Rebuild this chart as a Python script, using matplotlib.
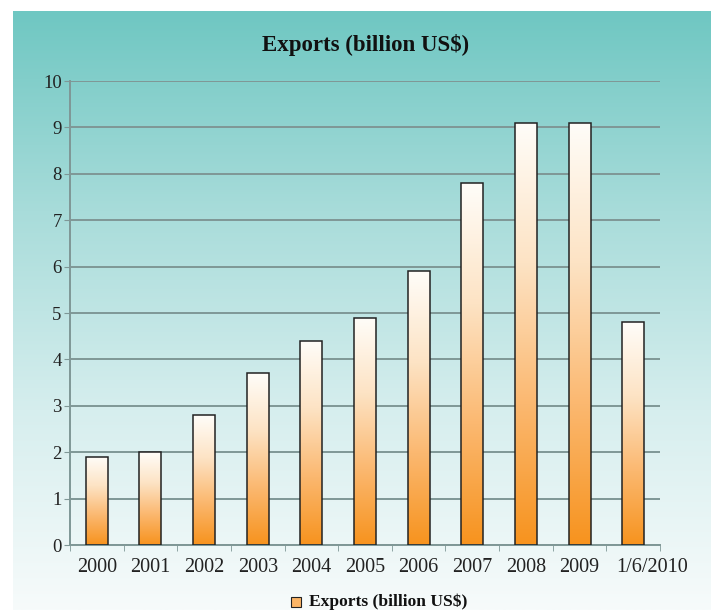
import numpy as np
import matplotlib.pyplot as plt
import matplotlib.transforms as mtransforms
from matplotlib.colors import LinearSegmentedColormap
from matplotlib.patches import Rectangle

plt.rcParams["font.family"] = ["Liberation Serif", "DejaVu Serif"]

years = ["2000", "2001", "2002", "2003", "2004", "2005", "2006", "2007",
         "2008", "2009", "1/6/2010"]
exports = [1.9, 2.0, 2.8, 3.7, 4.4, 4.9, 5.9, 7.8, 9.1, 9.1, 4.8]
series_name = "Exports (billion US$)"

W, H = 711, 610
fig = plt.figure(figsize=(W / 100, H / 100), dpi=100)
fig.patch.set_facecolor("white")

# background panel with teal -> white gradient
bg = fig.add_axes([13 / W, 0, 1 - 13 / W, 1 - 11 / H])
bg_cmap = LinearSegmentedColormap.from_list("bg", ["#f7fbfb", "#d6eeee", "#a8dcda", "#6fc7c2"])
grad = np.linspace(0, 1, 256).reshape(-1, 1)
bg.imshow(grad, aspect="auto", cmap=bg_cmap, origin="lower", extent=[0, 1, 0, 1])
bg.axis("off")

ax = fig.add_axes([70 / W, (H - 545) / H, 590 / W, 464 / H])
ax.set_facecolor("none")
x = np.arange(len(years))
bars = ax.bar(x, exports, width=0.41, color="none", edgecolor="#222222", linewidth=1.1, zorder=3)

bar_cmap = LinearSegmentedColormap.from_list("bar", ["#f7931e", "#fbb870", "#fde3c4", "#fffdf9"])
for b in bars:
    bx, by = b.get_x(), b.get_y()
    bw, bh = b.get_width(), b.get_height()
    im = ax.imshow(grad, aspect="auto", cmap=bar_cmap, origin="lower",
                   extent=[bx, bx + bw, by, by + bh], zorder=2)
    im.set_clip_path(b)

ax.set_xlim(-0.5, len(years) - 0.5)
ax.set_ylim(0, 10)
ax.set_yticks(range(0, 11))
ax.yaxis.grid(True, color="#7f9796", linewidth=1.4, zorder=1)
ax.set_axisbelow(True)

ax.set_xticks(x)
ax.set_xticklabels(years, fontsize=14.5)
ax.tick_params(axis="x", length=0, pad=9, colors="#222222")
ax.set_xticks(np.arange(-0.5, len(years), 1), minor=True)
ax.tick_params(axis="x", which="minor", length=4, color="#7f9796")
ax.tick_params(axis="y", labelsize=13.5, length=4, color="#7f9796", pad=2, labelcolor="#222222")

# last label is pushed right so it does not touch "2009"
last = ax.get_xticklabels()[-1]
last.set_transform(last.get_transform() +
                   mtransforms.ScaledTranslation(19 / 100, 0, fig.dpi_scale_trans))

for s in ["top", "right"]:
    ax.spines[s].set_visible(False)
for s in ["left", "bottom"]:
    ax.spines[s].set_color("#7f9796")
    ax.spines[s].set_linewidth(1.4)

fig.text(0.5 + 10 / W, 1 - 45 / H, series_name, ha="center", va="center",
         fontsize=16.5, fontweight="bold", color="#111111")

# legend
fig.patches.append(Rectangle((291 / W, 1 - 607 / H), 10 / W, 10 / H,
                             transform=fig.transFigure, facecolor="#fbb566",
                             edgecolor="#222222", linewidth=0.8))
fig.text(309 / W, 1 - 602 / H, series_name, ha="left", va="center",
         fontsize=12.6, fontweight="bold", color="#111111")

fig.savefig("out.png", dpi=100)
